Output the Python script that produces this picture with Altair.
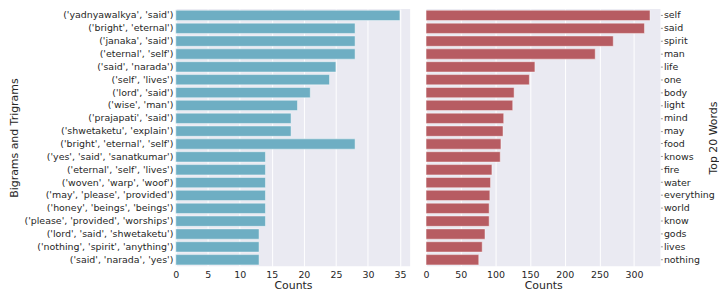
import altair as alt
import pandas as pd

ngrams = [
    "('yadnyawalkya', 'said')",
    "('bright', 'eternal')",
    "('janaka', 'said')",
    "('eternal', 'self')",
    "('said', 'narada')",
    "('self', 'lives')",
    "('lord', 'said')",
    "('wise', 'man')",
    "('prajapati', 'said')",
    "('shwetaketu', 'explain')",
    "('bright', 'eternal', 'self')",
    "('yes', 'said', 'sanatkumar')",
    "('eternal', 'self', 'lives')",
    "('woven', 'warp', 'woof')",
    "('may', 'please', 'provided')",
    "('honey', 'beings', 'beings')",
    "('please', 'provided', 'worships')",
    "('lord', 'said', 'shwetaketu')",
    "('nothing', 'spirit', 'anything')",
    "('said', 'narada', 'yes')",
]
ngram_counts = [35, 28, 28, 28, 25, 24, 21, 19, 18, 18, 28, 14, 14, 14, 14, 14, 14, 13, 13, 13]

words = ["self", "said", "spirit", "man", "life", "one", "body", "light", "mind", "may",
         "food", "knows", "fire", "water", "everything", "world", "know", "gods", "lives", "nothing"]
word_counts = [323, 315, 270, 244, 157, 149, 127, 125, 112, 111,
               108, 107, 95, 93, 92, 91, 91, 85, 81, 76]

left_ticks = [0, 5, 10, 15, 20, 25, 30, 35]
right_ticks = [0, 50, 100, 150, 200, 250, 300]

df1 = pd.DataFrame({"ngram": ngrams, "count": ngram_counts})
df2 = pd.DataFrame({"word": words, "count": word_counts})

FONT = "DejaVu Sans"
TXT = "#262626"
band = alt.Scale(paddingInner=0.2, paddingOuter=0.1)
common = dict(labelFont=FONT, labelFontSize=9.5, labelColor=TXT,
              titleFont=FONT, titleFontSize=11, titleFontWeight="normal", titleColor=TXT,
              domain=False, gridColor="white", gridWidth=1)

left = alt.Chart(df1).mark_bar(
    color="#6EAEC3", stroke="white", strokeOpacity=0.45, strokeWidth=1
).encode(
    x=alt.X("count:Q", title="Counts",
            scale=alt.Scale(domain=[0, 36.6], nice=False, zero=True),
            axis=alt.Axis(values=left_ticks, grid=True, ticks=False, labelFlush=False,
                          labelPadding=3, titlePadding=1, **common)),
    y=alt.Y("ngram:N", sort=None, title="Bigrams and Trigrams", scale=band,
            axis=alt.Axis(ticks=False, grid=False, labelPadding=3, titlePadding=4, **common)),
).properties(width=236, height=259)

right = alt.Chart(df2).mark_bar(
    color="#B75C62", stroke="white", strokeOpacity=0.45, strokeWidth=1
).encode(
    x=alt.X("count:Q", title="Counts",
            scale=alt.Scale(domain=[0, 338], nice=False, zero=True),
            axis=alt.Axis(values=right_ticks, grid=True, ticks=False, labelFlush=False,
                          labelPadding=3, titlePadding=1, **common)),
    y=alt.Y("word:N", sort=None, title="Top 20 Words", scale=band,
            axis=alt.Axis(orient="right", ticks=True, tickSize=2, tickColor="#999999",
                          grid=False, labelPadding=1, titlePadding=4, titleAngle=270, **common)),
).properties(width=236, height=259)

chart = alt.hconcat(left, right, spacing=12).properties(
    padding=0, background="white"
).configure_view(
    fill="#EAEAF2", stroke=None
)

chart.save("out.html", embed_options={"renderer": "svg", "actions": False})
